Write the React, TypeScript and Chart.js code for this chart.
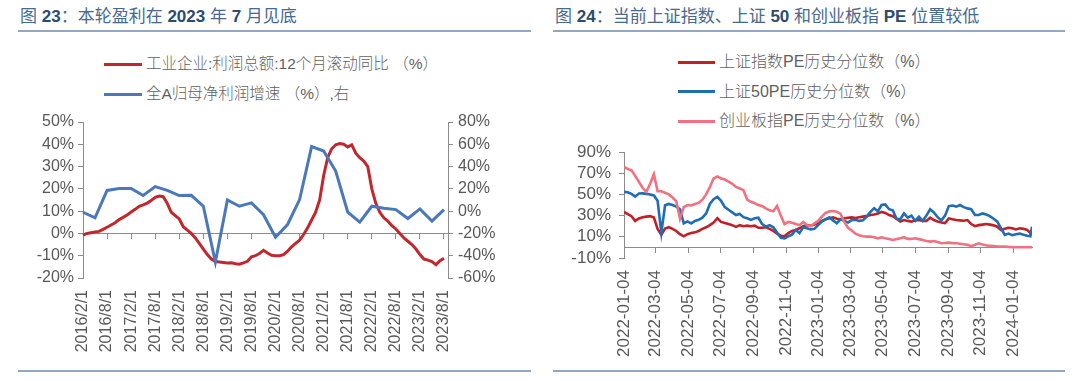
import React, { useEffect, useRef } from 'react';
import { Chart, registerables } from 'chart.js';

Chart.register(...registerables);

const LATIN = '"Liberation Sans", Arial, Helvetica, sans-serif';
const MIXED = '"Liberation Sans", "Noto Sans CJK SC", sans-serif';
const TEXT_GRAY = '#595959';
const AXIS_GRAY = '#8c8c8c';

// ---------- Figure 23 ----------
const profitMonths = [
  '2016/2/1','2016/3/1','2016/4/1','2016/5/1','2016/6/1','2016/7/1','2016/8/1','2016/9/1','2016/10/1','2016/11/1','2016/12/1',
  '2017/1/1','2017/2/1','2017/3/1','2017/4/1','2017/5/1','2017/6/1','2017/7/1','2017/8/1','2017/9/1','2017/10/1','2017/11/1','2017/12/1',
  '2018/1/1','2018/2/1','2018/3/1','2018/4/1','2018/5/1','2018/6/1','2018/7/1','2018/8/1','2018/9/1','2018/10/1','2018/11/1','2018/12/1',
  '2019/1/1','2019/2/1','2019/3/1','2019/4/1','2019/5/1','2019/6/1','2019/7/1','2019/8/1','2019/9/1','2019/10/1','2019/11/1','2019/12/1',
  '2020/1/1','2020/2/1','2020/3/1','2020/4/1','2020/5/1','2020/6/1','2020/7/1','2020/8/1','2020/9/1','2020/10/1','2020/11/1','2020/12/1',
  '2021/1/1','2021/2/1','2021/3/1','2021/4/1','2021/5/1','2021/6/1','2021/7/1','2021/8/1','2021/9/1','2021/10/1','2021/11/1','2021/12/1',
  '2022/1/1','2022/2/1','2022/3/1','2022/4/1','2022/5/1','2022/6/1','2022/7/1','2022/8/1','2022/9/1','2022/10/1','2022/11/1','2022/12/1',
  '2023/1/1','2023/2/1','2023/3/1','2023/4/1','2023/5/1','2023/6/1','2023/7/1','2023/8/1','2023/9/1',
];
const labelEvery = 6;

// 工业企业:利润总额:12个月滚动同比 (%), 2016/2 .. 2023/8
const profitYoY = [
  -0.8, 0.0, 0.3, 0.6, 0.9, 1.8, 2.8, 3.8, 4.8, 6.2,
  7.2, 8.3, 9.6, 10.8, 12.2, 12.8, 13.6, 14.8, 16.2, 16.8,
  16.5, 13.5, 9.5, 8.0, 6.5, 3.0, 1.5, 0.0, -2.0, -4.5,
  -7.0, -9.5, -11.5, -12.6, -12.8, -13.0, -13.3, -13.2, -13.6, -13.8,
  -13.2, -12.5, -10.5, -10.0, -9.0, -7.6, -8.8, -9.8, -10.0, -10.0,
  -9.5, -8.0, -6.0, -4.5, -3.0, -0.5, 2.5, 6.0, 9.5, 15.0,
  26.0, 34.0, 38.0, 39.8, 40.3, 40.0, 38.8, 39.8, 36.0, 34.0,
  32.5, 30.0, 20.0, 13.5, 9.5, 7.0, 5.5, 3.5, 2.0, 0.0,
  -2.0, -3.5, -5.0, -7.0, -9.5, -11.5, -12.0, -12.6, -14.0, -12.2,
  -11.2,
];

// 全A归母净利润增速 (%), right axis
const netProfitDates = [
  '2016/2/1','2016/5/1','2016/8/1','2016/11/1','2017/2/1','2017/5/1','2017/8/1','2017/11/1',
  '2018/2/1','2018/5/1','2018/8/1','2018/11/1','2019/2/1','2019/5/1','2019/8/1','2019/11/1',
  '2020/2/1','2020/5/1','2020/8/1','2020/11/1','2021/2/1','2021/5/1','2021/8/1','2021/11/1',
  '2022/2/1','2022/5/1','2022/8/1','2022/11/1','2023/2/1','2023/5/1','2023/8/1',
];
const netProfitGrowth = [
  -1, -6, 18.6, 20.4, 20.4, 14, 22, 18.6, 14, 14.2, 4.4, -45.6, 10, 4.4, 7.4, -3.2,
  -23.4, -12, 10.4, 58, 54, 36, -0.8, -9.8, 4.4, 2.6, 1.4, -6.6, 2, -9, 1.4,
];
const leftAxisTicks = [-20, -10, 0, 10, 20, 30, 40, 50];
const rightAxisTicks = [-60, -40, -20, 0, 20, 40, 60, 80];

// ---------- Figure 24 ----------
const peDates = [
  '2022-01-04','2022-01-11','2022-01-18','2022-01-25','2022-02-01','2022-02-08','2022-02-15','2022-02-22','2022-03-01','2022-03-08',
  '2022-03-15','2022-03-22','2022-03-29','2022-04-05','2022-04-12','2022-04-19','2022-04-26','2022-05-03','2022-05-10','2022-05-17',
  '2022-05-24','2022-05-31','2022-06-07','2022-06-14','2022-06-21','2022-06-28','2022-07-05','2022-07-12','2022-07-19','2022-07-26',
  '2022-08-02','2022-08-09','2022-08-16','2022-08-23','2022-08-30','2022-09-06','2022-09-13','2022-09-20','2022-09-27','2022-10-04',
  '2022-10-11','2022-10-18','2022-10-25','2022-11-01','2022-11-08','2022-11-15','2022-11-22','2022-11-29','2022-12-06','2022-12-13',
  '2022-12-20','2022-12-27','2023-01-03','2023-01-10','2023-01-17','2023-01-24','2023-01-31','2023-02-07','2023-02-14','2023-02-21',
  '2023-02-28','2023-03-07','2023-03-14','2023-03-21','2023-03-28','2023-04-04','2023-04-11','2023-04-18','2023-04-25','2023-05-02',
  '2023-05-09','2023-05-16','2023-05-23','2023-05-30','2023-06-06','2023-06-13','2023-06-20','2023-06-27','2023-07-04','2023-07-11',
  '2023-07-18','2023-07-25','2023-08-01','2023-08-08','2023-08-15','2023-08-22','2023-08-29','2023-09-05','2023-09-12','2023-09-19',
  '2023-09-26','2023-10-03','2023-10-10','2023-10-17','2023-10-24','2023-10-31','2023-11-07','2023-11-14','2023-11-21','2023-11-28',
  '2023-12-05','2023-12-12','2023-12-19','2023-12-26','2024-01-02','2024-01-09','2024-01-16','2024-01-23','2024-01-30','2024-02-05',
  '2024-02-08',
];
const shIndexPE = [
  33.5, 31.5, 29.5, 25, 27.3, 28.5, 29, 29.5, 28.2, 17.5,
  12, 17.8, 19, 17.5, 15.5, 12.5, 10.5, 12.5, 13.5, 14.2,
  15.5, 17.5, 19, 21, 23.5, 27.5, 24, 23, 22, 21,
  19.4, 21, 20, 20.5, 20, 20.5, 18.5, 18.5, 19, 17.5,
  15.5, 13, 11, 10.5, 13.5, 15.5, 16.5, 18, 20, 21,
  20.5, 21.5, 23, 25, 26.5, 27.5, 28.3, 27, 26.5, 27.4,
  28, 28.3, 27.8, 28.5, 29, 29.5, 30.5, 31, 32, 33.5,
  32.5, 30.5, 29.5, 27, 24.5, 25.8, 25, 24.3, 25.5, 25.8,
  25, 25, 28, 25.8, 24.5, 23.5, 23, 27.4, 26.5, 25.8,
  25.5, 25.2, 25.8, 22, 20, 21, 21.5, 22, 21.5, 20.8,
  19.5, 16.4, 17.5, 18.5, 18, 17, 18, 17.5, 16.5, 13.5,
  15,
];
const sh50PE = [
  52.4, 52, 50.5, 48, 50.8, 51, 50.5, 50, 49, 44,
  14, 39.8, 41, 40, 38.5, 36, 22.6, 24.5, 22.6, 25,
  26, 28, 32, 41, 45.5, 47.7, 44, 38, 35.5, 33,
  30.5, 31.5, 28.5, 27.5, 26, 27.5, 28, 22, 19.6, 21,
  19, 14, 9, 8.5, 10.5, 12, 16.4, 13.5, 19, 18,
  17, 17.5, 21, 24.3, 26.5, 28.3, 25.5, 22.7, 26.5, 25,
  23.5, 25.8, 26, 25, 25.5, 29, 33.5, 37, 34, 40,
  40.5, 36, 35, 27, 26.5, 32, 28, 30, 25, 29,
  25, 30, 36, 33, 28.5, 25.5, 30, 39, 39.5, 38.5,
  40, 38, 36.8, 36, 30.5, 30.5, 32, 31, 29.5, 27,
  24.3, 18, 11.7, 13, 11.5, 12.5, 13, 12, 11, 10.5,
  19.5,
];
const chinextPE = [
  76, 74, 72.7, 67.5, 61.8, 56, 52.4, 60, 69, 53,
  53, 51.5, 50, 47, 43.5, 27, 38, 40, 39.5, 41,
  42, 45, 50, 57, 65, 67, 65, 64, 62, 60,
  57, 55.5, 54, 45, 43, 41.6, 40, 39, 36.8, 35,
  34, 39, 30, 22, 24, 23.3, 22, 21, 24, 21,
  20, 22.7, 25, 29, 32.5, 34, 34.3, 33.7, 31.5, 24,
  18.5, 16, 13, 11.5, 10.5, 10.2, 10.2, 9.5, 8.6, 9.5,
  8.6, 8, 7, 7.8, 8.6, 9.6, 8, 8, 8.6, 7.8,
  7, 6, 5.5, 6, 5, 3.9, 4.2, 4.5, 4, 3.9,
  3.5, 3, 2.4, 1.2, 2.5, 3.9, 2.8, 2, 1.4, 1.2,
  0.8, 0.8, 0.8, 0.5, 0.3, 0.2, 0.2, 0.2, 0.2, 0.1,
  0.2,
];
const peDateTicks = [
  '2022-01-04','2022-03-04','2022-05-04','2022-07-04','2022-09-04','2022-11-04','2023-01-04',
  '2023-03-04','2023-05-04','2023-07-04','2023-09-04','2023-11-04','2024-01-04',
];
const pePctTicks = [-10, 10, 30, 50, 70, 90];

// ---------- helpers ----------
const fixWidth = (w: number) => (s: any) => { s.width = w; };
const fixHeight = (h: number) => (s: any) => { s.height = h; };
const setTicks = (vals: number[]) => (s: any) => { s.ticks = vals.map((v) => ({ value: v })); };
const pct = (v: any) => v + '%';

function fig23Config(): any {
  const blue = netProfitDates.map((d, i) => ({ x: d, y: netProfitGrowth[i] }));
  return {
    type: 'line',
    data: {
      labels: profitMonths,
      datasets: [
        { label: '工业企业:利润总额:12个月滚动同比 （%）', data: profitYoY, xAxisID: 'x', yAxisID: 'y',
          borderColor: '#C0282E', borderWidth: 3, pointRadius: 0, tension: 0, order: 2 },
        { label: '全A归母净利润增速 （%）,右', data: blue, xAxisID: 'x', yAxisID: 'y1',
          borderColor: '#4A78BA', borderWidth: 3, pointRadius: 0, tension: 0, order: 1 },
      ],
    },
    options: {
      animation: false,
      responsive: false,
      layout: { padding: { top: 22, left: 0, right: 0, bottom: 0 } },
      plugins: { legend: { display: false }, tooltip: { enabled: false } },
      scales: {
        x: {
          type: 'category', position: 'bottom',
          border: { display: false },
          grid: { display: false, drawTicks: false },
          ticks: {
            autoSkip: false, minRotation: 90, maxRotation: 90, padding: 12,
            color: TEXT_GRAY, font: { family: LATIN, size: 16 },
            callback: (_v: any, i: number) => (i % labelEvery === 0 ? profitMonths[i] : ''),
          },
          afterFit: fixHeight(92),
        },
        xZero: {
          axis: 'x', type: 'category', position: { y: 0 },
          border: { display: true, color: AXIS_GRAY, width: 1 },
          grid: {
            drawOnChartArea: false, drawTicks: true, tickLength: 5,
            color: (c: any) => (c.index % labelEvery === 0 ? AXIS_GRAY : 'rgba(0,0,0,0)'),
          },
          ticks: { display: false },
        },
        y: {
          type: 'linear', position: 'left', min: -20, max: 50,
          afterBuildTicks: setTicks(leftAxisTicks),
          border: { display: true, color: AXIS_GRAY },
          grid: { drawOnChartArea: false, drawTicks: true, tickLength: 5, color: AXIS_GRAY },
          ticks: { autoSkip: false, padding: 4, color: TEXT_GRAY, font: { family: LATIN, size: 16 }, callback: pct },
          afterFit: fixWidth(83),
        },
        y1: {
          type: 'linear', position: 'right', min: -60, max: 80,
          afterBuildTicks: setTicks(rightAxisTicks),
          border: { display: true, color: AXIS_GRAY },
          grid: { drawOnChartArea: false, drawTicks: true, tickLength: 5, color: AXIS_GRAY },
          ticks: { autoSkip: false, padding: 5, color: TEXT_GRAY, font: { family: LATIN, size: 16 }, callback: pct },
          afterFit: fixWidth(92),
        },
      },
    },
  };
}

function fig24Config(): any {
  const toPts = (vals: number[]) => peDates.map((d, i) => ({ x: Date.parse(d), y: vals[i] }));
  const xMin = Date.parse(peDates[0]);
  const xMax = Date.parse(peDates[peDates.length - 1]);
  const xTickVals = peDateTicks.map((d) => Date.parse(d));
  const fmt = (v: any) => new Date(v).toISOString().slice(0, 10);
  return {
    type: 'line',
    data: {
      datasets: [
        { label: '上证指数PE历史分位数（%）', data: toPts(shIndexPE), xAxisID: 'x', yAxisID: 'y',
          borderColor: '#C21F26', borderWidth: 2.6, pointRadius: 0, tension: 0, order: 3 },
        { label: '上证50PE历史分位数（%）', data: toPts(sh50PE), xAxisID: 'x', yAxisID: 'y',
          borderColor: '#1F6EB5', borderWidth: 2.6, pointRadius: 0, tension: 0, order: 2 },
        { label: '创业板指PE历史分位数（%）', data: toPts(chinextPE), xAxisID: 'x', yAxisID: 'y',
          borderColor: '#F0717F', borderWidth: 2.6, pointRadius: 0, tension: 0, order: 1 },
      ],
    },
    options: {
      animation: false,
      responsive: false,
      layout: { padding: { top: 52, left: 0, right: 48, bottom: 0 } },
      plugins: { legend: { display: false }, tooltip: { enabled: false } },
      scales: {
        x: {
          type: 'linear', position: 'bottom', min: xMin, max: xMax,
          afterBuildTicks: setTicks(xTickVals),
          border: { display: false },
          grid: { display: false, drawTicks: false },
          ticks: {
            autoSkip: false, minRotation: 90, maxRotation: 90, padding: 12,
            color: TEXT_GRAY, font: { family: LATIN, size: 17 }, callback: fmt,
          },
          afterFit: fixHeight(112),
        },
        xZero: {
          axis: 'x', type: 'linear', position: { y: 0 }, min: xMin, max: xMax,
          afterBuildTicks: setTicks(xTickVals),
          border: { display: true, color: AXIS_GRAY, width: 1 },
          grid: { drawOnChartArea: false, drawTicks: true, tickLength: 5, color: AXIS_GRAY },
          ticks: { display: false },
        },
        y: {
          type: 'linear', position: 'left', min: -10, max: 90,
          afterBuildTicks: setTicks(pePctTicks),
          border: { display: true, color: AXIS_GRAY },
          grid: { drawOnChartArea: false, drawTicks: true, tickLength: 5, color: AXIS_GRAY },
          ticks: { autoSkip: false, padding: 8, color: TEXT_GRAY, font: { family: LATIN, size: 17 }, callback: pct },
          afterFit: fixWidth(84),
        },
      },
    },
  };
}

function ChartCanvas({ left, top, width, height, make }: any) {
  const ref = useRef<HTMLCanvasElement | null>(null);
  useEffect(() => {
    if (!ref.current) return;
    const chart = new Chart(ref.current, make());
    return () => chart.destroy();
  }, []);
  return (
    <canvas ref={ref} width={width} height={height}
      style={{ position: 'absolute', left, top, width, height }} />
  );
}

function LegendRow({ left, cy, color, text, lineW, size }: any) {
  return (
    <div style={{ position: 'absolute', left, top: cy - 11, height: 22, display: 'flex', alignItems: 'center', whiteSpace: 'nowrap' }}>
      <div style={{ width: lineW, height: 3, background: color, marginRight: 4 }} />
      <span style={{ fontFamily: MIXED, fontSize: size, color: '#5f5f5f', fontWeight: 300, lineHeight: '22px' }}>{text}</span>
    </div>
  );
}

const numStyle: any = { fontFamily: LATIN, fontWeight: 700, color: '#2b4c6f' };

export default function App() {
  return (
    <div style={{ position: 'absolute', left: 0, top: 0, width: 1080, height: 381, overflow: 'hidden', background: '#ffffff' }}>
      {/* titles */}
      <div style={{ position: 'absolute', left: 20, top: 6, fontSize: 17, lineHeight: '22px', color: '#47698d', fontFamily: MIXED, whiteSpace: 'nowrap' }}>
        图 <span style={numStyle}>23</span>：本轮盈利在 <span style={numStyle}>2023</span> 年 <span style={numStyle}>7</span> 月见底
      </div>
      <div style={{ position: 'absolute', left: 555, top: 6, fontSize: 17, lineHeight: '22px', color: '#47698d', fontFamily: MIXED, whiteSpace: 'nowrap' }}>
        图 <span style={numStyle}>24</span>：当前上证指数、上证 <span style={numStyle}>50</span> 和创业板指 <span style={numStyle}>PE</span> 位置较低
      </div>
      {/* rules */}
      <div style={{ position: 'absolute', left: 18, top: 30, width: 513, height: 2, background: '#8eaac2' }} />
      <div style={{ position: 'absolute', left: 553, top: 30, width: 512, height: 2, background: '#8eaac2' }} />
      <div style={{ position: 'absolute', left: 18, top: 370, width: 513, height: 2, background: '#8eaac2' }} />
      <div style={{ position: 'absolute', left: 553, top: 370, width: 512, height: 2, background: '#8eaac2' }} />

      {/* legends */}
      <LegendRow left={104} cy={64} color="#C0282E" lineW={38} size={15.5} text="工业企业:利润总额:12个月滚动同比 （%）" />
      <LegendRow left={104} cy={94} color="#4A78BA" lineW={38} size={15.5} text="全A归母净利润增速 （%）,右" />
      <LegendRow left={678} cy={62} color="#C21F26" lineW={37} size={16} text="上证指数PE历史分位数（%）" />
      <LegendRow left={678} cy={91.5} color="#1F6EB5" lineW={37} size={16} text="上证50PE历史分位数（%）" />
      <LegendRow left={678} cy={121} color="#F0717F" lineW={37} size={16} text="创业板指PE历史分位数（%）" />

      <ChartCanvas left={0} top={100} width={540} height={270} make={fig23Config} />
      <ChartCanvas left={540} top={100} width={540} height={270} make={fig24Config} />
    </div>
  );
}
